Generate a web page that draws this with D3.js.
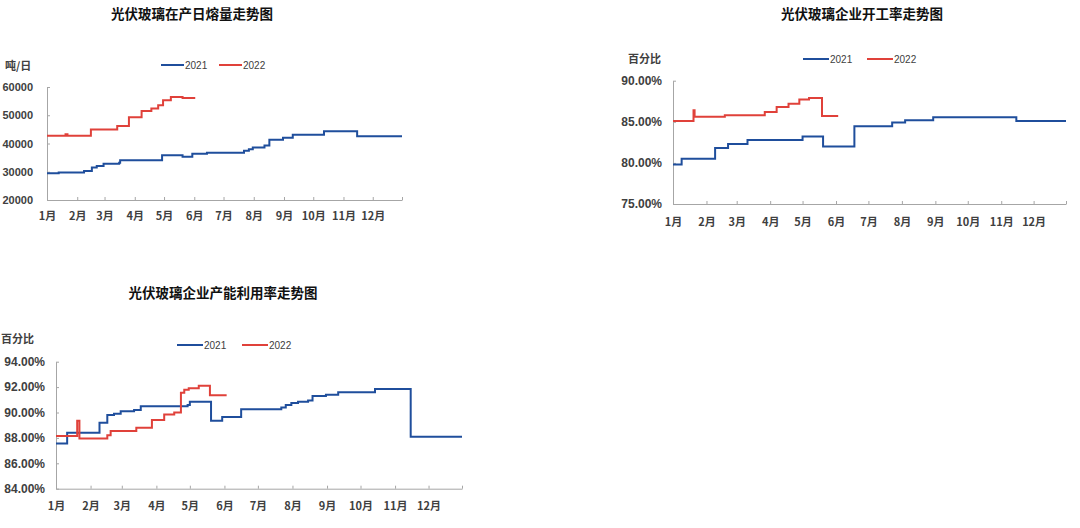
<!DOCTYPE html>
<html>
<head>
<meta charset="utf-8">
<script src="https://cdn.jsdelivr.net/npm/d3@7"></script>
<style>
  html, body { margin: 0; padding: 0; background: #fff; }
  svg { display: block; font-family: "Liberation Sans", "Noto Sans CJK SC", sans-serif; }
</style>
</head>
<body>
<svg id="chart" width="1080" height="528"></svg>
<script>
// ---------- DATA ----------
const monthLabels = ["1月","2月","3月","4月","5月","6月","7月","8月","9月","10月","11月","12月"];
const seriesNames = ["2021", "2022"];

// Chart 1: 光伏玻璃在产日熔量 (吨/日)
const meltTicks = [20000, 30000, 40000, 50000, 60000];
const meltDates2021 = ["01-01","01-13","02-08","02-16","02-21","02-28","03-16","03-17","04-29","05-20","05-30","06-14","07-22","07-27","07-31","08-12","08-17","08-31","09-10","10-12","11-15","12-31"];
const melt2021 = [29500,29700,30300,31500,32000,32800,33200,34100,35800,35300,36400,36700,37400,38000,38600,39300,41300,42000,43100,44300,42600,42600];
const meltDates2022 = ["01-01","01-20","01-22","02-15","03-14","03-26","04-08","04-18","04-25","04-30","05-08","05-20","06-02"];
const melt2022 = [42700,43300,42700,45000,46200,49300,51500,52400,53500,55300,56500,56100,56100];

// Chart 2: 光伏玻璃企业开工率 (%)
const runTicks = [75, 80, 85, 90];
const runDates2021 = ["01-01","01-09","02-09","02-21","03-11","05-01","05-20","06-18","07-23","08-04","08-30","11-15","12-31"];
const run2021 = [79.8,80.5,81.8,82.3,82.8,83.2,82.0,84.45,84.9,85.2,85.55,85.1,85.1];
const runDates2022 = ["01-01","01-20","01-21","02-18","03-27","04-07","04-18","04-28","05-07","05-19","06-03"];
const run2022 = [85.1,86.4,85.6,85.8,86.2,86.8,87.2,87.7,87.9,85.7,85.7];

// Chart 3: 光伏玻璃企业产能利用率 (%)
const capTicks = [84, 86, 88, 90, 92, 94];
const capDates2021 = ["01-01","01-11","02-09","02-16","02-22","02-28","03-12","03-18","04-29","05-01","05-20","05-30","06-16","07-22","07-26","07-31","08-06","08-15","08-19","08-31","09-11","10-14","11-15","12-31"];
const cap2021 = [87.55,88.4,89.2,89.8,89.9,90.1,90.2,90.5,90.6,90.85,89.35,89.65,90.25,90.4,90.6,90.75,90.85,90.95,91.3,91.4,91.6,91.85,88.1,88.1];
const capDates2022 = ["01-01","01-20","01-22","02-16","02-19","03-14","03-28","04-08","04-17","04-23","04-26","04-30","05-09","05-19","06-03"];
const cap2022 = [88.15,89.35,87.95,88.2,88.55,88.8,89.4,89.85,90.0,91.55,91.8,91.9,92.1,91.35,91.35];

// ---------- DRAW ----------
const svg = d3.select("#chart");
const COLORS = { "2021": "#1f4e9c", "2022": "#e0413a" };
const parseMD = md => new Date(2021, +md.slice(0,2) - 1, +md.slice(3,5));
const tickDates = d3.range(12).map(m => new Date(2021, m, 1)).concat([new Date(2021, 11, 31)]);

function drawChart(cfg) {
  const g = svg.append("g");
  const x = d3.scaleTime().domain([new Date(2021,0,1), new Date(2021,11,31)]).range([cfg.x0, cfg.x1]);
  const y = d3.scaleLinear().domain([cfg.ticks[0], cfg.ticks[cfg.ticks.length-1]]).range([cfg.yb, cfg.yt]);

  // title
  g.append("text").attr("x", cfg.titleX).attr("y", cfg.titleY)
    .attr("text-anchor", "middle").attr("font-size", 13.5).attr("font-weight", "bold")
    .attr("fill", "#111").attr("font-family", "Noto Sans CJK SC").text(cfg.title);

  // unit
  g.append("text").attr("x", cfg.unitX).attr("y", cfg.unitY)
    .attr("font-size", 11).attr("font-weight", "bold").attr("fill", "#404040")
    .attr("font-family", "Noto Sans CJK SC").text(cfg.unit);

  // legend
  seriesNames.forEach((name, i) => {
    const lx = cfg.legX[i];
    g.append("line").attr("x1", lx).attr("x2", lx + cfg.legLen).attr("y1", cfg.legY).attr("y2", cfg.legY)
      .attr("stroke", COLORS[name]).attr("stroke-width", 2);
    g.append("text").attr("x", lx + cfg.legLen + 1).attr("y", cfg.legY + 3.5)
      .attr("font-size", 10).attr("fill", "#404040").text(name);
  });

  // y axis
  const yAxis = d3.axisLeft(y).tickValues(cfg.ticks).tickSizeInner(-3).tickSizeOuter(0)
    .tickPadding(cfg.yPad).tickFormat(cfg.fmt);
  const ya = g.append("g").attr("transform", `translate(${cfg.x0},0)`).call(yAxis);
  ya.select(".domain").attr("stroke", "#a6a6a6");
  ya.selectAll(".tick line").attr("stroke", "#a6a6a6");
  ya.selectAll(".tick text").attr("font-size", cfg.yFont).attr("font-weight", "bold").attr("fill", "#404040")
    .attr("font-family", "Liberation Sans");

  // x axis
  const xAxis = d3.axisBottom(x).tickValues(tickDates).tickSizeInner(-3).tickSizeOuter(0)
    .tickPadding(cfg.xPad).tickFormat((d, i) => i < 12 ? monthLabels[i] : "");
  const xa = g.append("g").attr("transform", `translate(0,${cfg.yb})`).call(xAxis);
  xa.select(".domain").attr("stroke", "#a6a6a6");
  xa.selectAll(".tick line").attr("stroke", "#a6a6a6");
  xa.selectAll(".tick text").attr("font-size", 11).attr("font-weight", "bold").attr("fill", "#404040")
    .attr("font-family", "Noto Sans CJK SC");

  // lines
  const line = d3.line().x(d => x(d[0])).y(d => y(d[1])).curve(d3.curveStepAfter);
  cfg.series.forEach(s => {
    const pts = s.dates.map((dt, i) => [parseMD(dt), s.values[i]]);
    g.append("path").datum(pts).attr("d", line).attr("fill", "none")
      .attr("stroke", COLORS[s.name]).attr("stroke-width", 2).attr("stroke-linejoin", "miter");
  });
}

drawChart({
  title: "光伏玻璃在产日熔量走势图", titleX: 192, titleY: 19,
  unit: "吨/日", unitX: 5, unitY: 70,
  legX: [161, 219], legLen: 23, legY: 65,
  x0: 47, x1: 402, yt: 87, yb: 200, ticks: meltTicks, fmt: d3.format("d"), yPad: 14, yFont: 11, xPad: 12,
  series: [{name: "2021", dates: meltDates2021, values: melt2021}, {name: "2022", dates: meltDates2022, values: melt2022}]
});

drawChart({
  title: "光伏玻璃企业开工率走势图", titleX: 862, titleY: 19,
  unit: "百分比", unitX: 628, unitY: 63,
  legX: [803, 867], legLen: 26, legY: 59,
  x0: 673, x1: 1066, yt: 80.7, yb: 204, ticks: runTicks, fmt: d => d.toFixed(2) + "%", yPad: 11, yFont: 12, xPad: 14,
  series: [{name: "2021", dates: runDates2021, values: run2021}, {name: "2022", dates: runDates2022, values: run2022}]
});

drawChart({
  title: "光伏玻璃企业产能利用率走势图", titleX: 223, titleY: 298,
  unit: "百分比", unitX: 1, unitY: 343,
  legX: [177, 242], legLen: 26, legY: 345,
  x0: 56, x1: 462, yt: 361.7, yb: 488.7, ticks: capTicks, fmt: d => d.toFixed(2) + "%", yPad: 11, yFont: 12, xPad: 14,
  series: [{name: "2021", dates: capDates2021, values: cap2021}, {name: "2022", dates: capDates2022, values: cap2022}]
});
</script>
</body>
</html>
